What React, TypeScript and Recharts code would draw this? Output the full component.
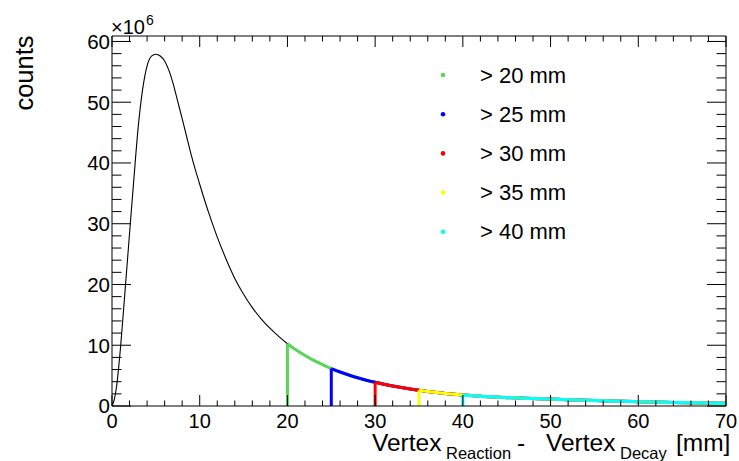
import { LineChart, Line, XAxis, YAxis, ReferenceLine } from 'recharts'

// distance between reaction and decay vertex, mm
const DIST = [
  0, 0.25, 0.5, 1, 1.5, 2, 2.5, 3, 3.5, 4, 4.5, 5, 5.5, 6, 6.5, 7, 7.5, 8, 8.5, 9, 9.5,
  10, 11, 12, 13, 14, 15, 16, 17, 18, 19, 20, 21, 22, 23, 24, 25, 26, 27, 28, 29, 30,
  31, 32, 33, 34, 35, 36, 37, 38, 39, 40, 42, 44, 46, 48, 50, 52, 54, 56, 58, 60, 62,
  64, 66, 68, 70,
]
// counts, x10^6
const COUNTS = [
  0, 1, 3, 10.1, 19.2, 28.4, 37.5, 46.1, 52.2, 56.0, 57.6, 57.9, 57.6, 56.8, 55.2, 52.9,
  50.1, 47.3, 44.4, 41.5, 38.9, 36.5, 31.9, 27.8, 24.2, 21.0, 18.4, 16.2, 14.35, 12.8, 11.45,
  10.25, 9.2, 8.3, 7.5, 6.8, 6.15, 5.6, 5.1, 4.65, 4.25, 3.9, 3.58, 3.3, 3.04, 2.8, 2.58,
  2.39, 2.22, 2.07, 1.93, 1.8, 1.6, 1.46, 1.34, 1.23, 1.14, 1.04, 0.95, 0.87, 0.79, 0.71,
  0.64, 0.58, 0.53, 0.48, 0.44,
]
const CUTS = [20, 25, 30, 35, 40]
const CUT_COLORS = ['#57d657', '#0000ff', '#ff0000', '#ffff00', '#00ffff']
const CUT_LABELS = ['> 20 mm', '> 25 mm', '> 30 mm', '> 35 mm', '> 40 mm']

const X_TICKS = Array.from({ length: 36 }, (_, i) => i * 2) // major every 10, minor every 2
const Y_TICKS = Array.from({ length: 31 }, (_, i) => i * 2)

const FONT = '"Liberation Sans", Arial, sans-serif'
const X_DOMAIN: [number, number] = [0, 70]
const Y_DOMAIN: [number, number] = [0, 60.9]

const main = DIST.map((x, i) => ({ x, y: COUNTS[i] }))
const valueAt = (x: number) => COUNTS[DIST.indexOf(x)]

const isMajor = (v: number) => v % 10 === 0

// ROOT style ticks: pointing into the frame
const BottomTick = ({ x, y, payload }: any) => (
  <g>
    <line x1={x} x2={x} y1={y} y2={y - (isMajor(payload.value) ? 11 : 5.5)} stroke="#000" />
    {isMajor(payload.value) && (
      <text x={x} y={y + 21.5} textAnchor="middle" fontSize={20} fontFamily={FONT} fill="#000">
        {payload.value}
      </text>
    )}
  </g>
)
const TopTick = ({ x, y, payload }: any) => (
  <line x1={x} x2={x} y1={y} y2={y + (isMajor(payload.value) ? 11 : 5.5)} stroke="#000" />
)
const LeftTick = ({ x, y, payload }: any) => (
  <g>
    <line x1={x} x2={x + (isMajor(payload.value) ? 19 : 9.5)} y1={y} y2={y} stroke="#000" />
    {isMajor(payload.value) && (
      <text x={x - 2} y={y} dy="0.36em" textAnchor="end" fontSize={20.5} fontFamily={FONT} fill="#000">
        {payload.value}
      </text>
    )}
  </g>
)
const RightTick = ({ x, y, payload }: any) => (
  <line x1={x} x2={x - (isMajor(payload.value) ? 19 : 9.5)} y1={y} y2={y} stroke="#000" />
)

export default function App() {
  return (
    <div style={{ position: 'absolute', left: 0, top: 0, width: 739, height: 461, background: '#fff' }}>
      <LineChart width={739} height={461} data={main} margin={{ top: 35, right: 12, bottom: 54, left: 111 }}>
        <XAxis type="number" dataKey="x" domain={X_DOMAIN} allowDataOverflow ticks={X_TICKS} interval={0}
          height={1} tickSize={0} tickMargin={0} tickLine={false} tick={<BottomTick />} stroke="#000" />
        <XAxis xAxisId="top" orientation="top" type="number" dataKey="x" domain={X_DOMAIN} allowDataOverflow
          ticks={X_TICKS} interval={0} height={1} tickSize={0} tickMargin={0} tickLine={false}
          tick={<TopTick />} stroke="#000" />
        <YAxis type="number" domain={Y_DOMAIN} allowDataOverflow ticks={Y_TICKS} interval={0} width={1}
          tickSize={0} tickMargin={0} tickLine={false} tick={<LeftTick />} stroke="#000" />
        <YAxis yAxisId="right" orientation="right" type="number" domain={Y_DOMAIN} allowDataOverflow
          ticks={Y_TICKS} interval={0} width={1} tickSize={0} tickMargin={0} tickLine={false}
          tick={<RightTick />} stroke="#000" />

        <Line type="monotone" dataKey="y" stroke="#000" strokeWidth={1.1} dot={false} activeDot={false}
          isAnimationActive={false} />
        {CUTS.map((cut, i) => (
          <Line key={cut} data={main.filter((p) => p.x >= cut)} type="monotone" dataKey="y"
            stroke={CUT_COLORS[i]} strokeWidth={3} dot={false} activeDot={false} isAnimationActive={false} />
        ))}
        {CUTS.map((cut, i) => (
          <ReferenceLine key={`v${cut}`} segment={[{ x: cut, y: 0 }, { x: cut, y: valueAt(cut) }]}
            stroke={CUT_COLORS[i]} strokeWidth={3} />
        ))}
      </LineChart>

      <svg width={739} height={461} style={{ position: 'absolute', left: 0, top: 0, pointerEvents: 'none' }}
        fontFamily={FONT}>
        <text x={33} y={73} fontSize={25.5} textAnchor="middle" transform="rotate(-90 33 73)">counts</text>
        <text x={111} y={34} fontSize={20}>×10</text>
        <text x={146} y={25} fontSize={14}>6</text>

        <text y={451} fontSize={24.5}>
          <tspan x={372}>Vertex</tspan>
          <tspan x={446} y={459} fontSize={16.5}>Reaction</tspan>
          <tspan x={517} y={451}>-</tspan>
          <tspan x={546} y={451}>Vertex</tspan>
          <tspan x={620} y={459} fontSize={16.5}>Decay</tspan>
          <tspan x={676} y={451}>[mm]</tspan>
        </text>

        {CUT_LABELS.map((label, i) => (
          <g key={label}>
            <circle cx={443} cy={75 + i * 39.2} r={2.3} fill={CUT_COLORS[i]} />
            <text x={480} y={75 + i * 39.2} fontSize={22} dominantBaseline="central">{label}</text>
          </g>
        ))}
      </svg>
    </div>
  )
}
